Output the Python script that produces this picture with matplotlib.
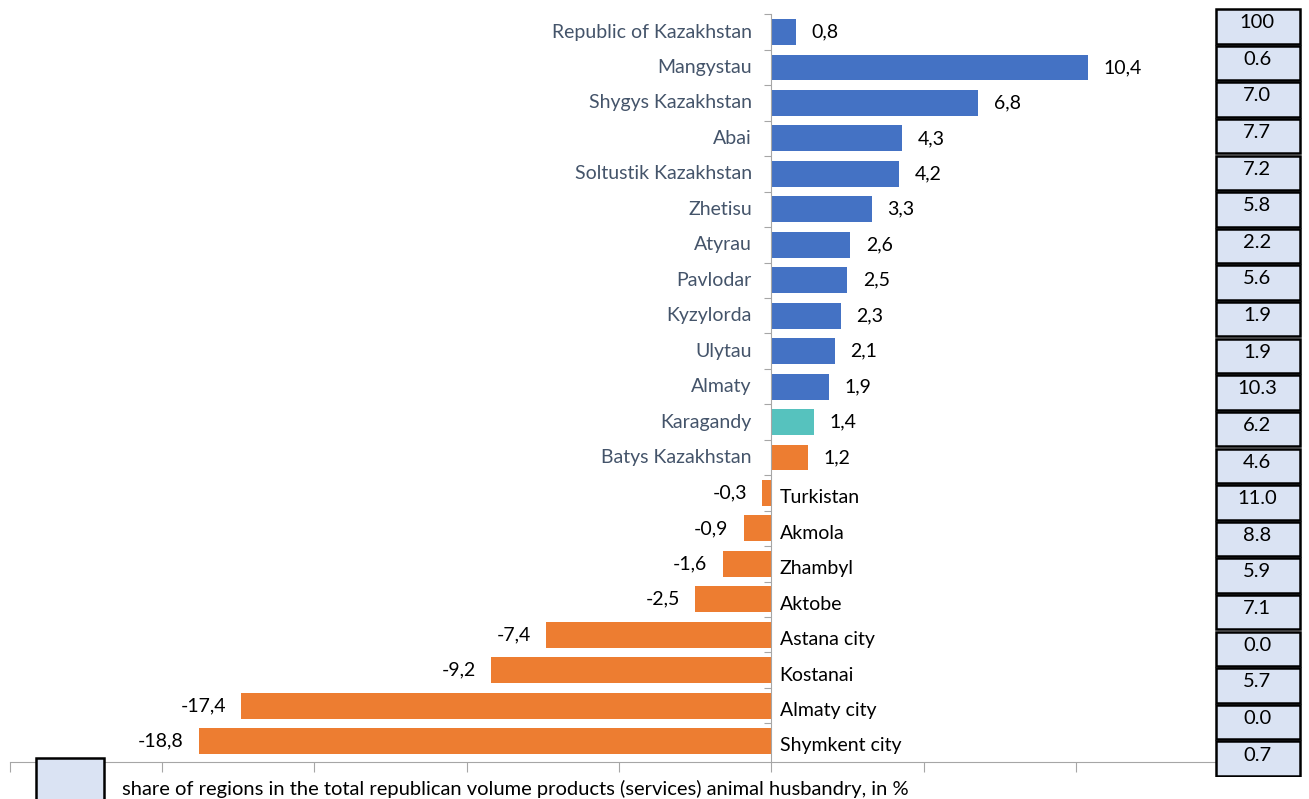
import matplotlib.pyplot as plt
from matplotlib.patches import Rectangle

plt.rcParams['font.family'] = ['Lato', 'DejaVu Sans']

# --- data ---
regions = ['Republic of Kazakhstan', 'Mangystau', 'Shygys Kazakhstan', 'Abai',
           'Soltustik Kazakhstan', 'Zhetisu', 'Atyrau', 'Pavlodar', 'Kyzylorda',
           'Ulytau', 'Almaty', 'Karagandy', 'Batys Kazakhstan', 'Turkistan',
           'Akmola', 'Zhambyl', 'Aktobe', 'Astana city', 'Kostanai',
           'Almaty city', 'Shymkent city']
growth = [0.8, 10.4, 6.8, 4.3, 4.2, 3.3, 2.6, 2.5, 2.3, 2.1, 1.9, 1.4, 1.2,
          -0.3, -0.9, -1.6, -2.5, -7.4, -9.2, -17.4, -18.8]
share = ['100', '0.6', '7.0', '7.7', '7.2', '5.8', '2.2', '5.6', '1.9', '1.9',
         '10.3', '6.2', '4.6', '11.0', '8.8', '5.9', '7.1', '0.0', '5.7',
         '0.0', '0.7']
legend_text = 'share of regions in the total republican volume products (services) animal husbandry, in %'

BLUE = '#4472C4'
TEAL = '#56C2BE'
ORANGE = '#ED7D31'
BOXFILL = '#DAE3F3'
FS = 14

W, H = 1309, 799
fig = plt.figure(figsize=(W / 100, H / 100), dpi=100)

def px_axes(x0, y0, x1, y1):
    return fig.add_axes([x0 / W, 1 - y1 / H, (x1 - x0) / W, (y1 - y0) / H])

ax = px_axes(10, 14, 1228, 762)

colors = []
for i, v in enumerate(growth):
    if i <= 10:
        colors.append(BLUE)
    elif i == 11:
        colors.append(TEAL)
    else:
        colors.append(ORANGE)

ypos = list(range(len(regions)))
ax.barh(ypos, growth, height=0.73, color=colors, zorder=2)
ax.set_xlim(-25, 15)
ax.set_ylim(len(regions) - 1 + 0.59, -0.51)

# value + category labels
for y, v, name in zip(ypos, growth, regions):
    s = f'{v:.1f}'.replace('.', ',')
    if v >= 0:
        ax.annotate(s, (v, y), xytext=(11, 0), textcoords='offset points',
                    ha='left', va='center', fontsize=FS, color='black')
        ax.annotate(name, (0, y), xytext=(-14, 0), textcoords='offset points',
                    ha='right', va='center', fontsize=FS, color='#44546A')
    else:
        ax.annotate(s, (v, y), xytext=(-11, 0), textcoords='offset points',
                    ha='right', va='center', fontsize=FS, color='black')
        ax.annotate(name, (0, y), xytext=(6, -3.5), textcoords='offset points',
                    ha='left', va='center', fontsize=FS, color='black')

# axes styling
for sp in ['top', 'right']:
    ax.spines[sp].set_visible(False)
ax.spines['left'].set_position(('data', 0))
ax.spines['left'].set_color('#A6A6A6')
ax.spines['bottom'].set_color('#A6A6A6')
ax.set_xticks(range(-25, 16, 5))
ax.set_xticklabels([])
ax.tick_params(axis='x', length=7, color='#A6A6A6', direction='out')
ax.set_yticks([y + 0.5 for y in ypos[:-1]] + [-0.5])
ax.set_yticklabels([])
ax.tick_params(axis='y', length=5, color='#A6A6A6', direction='out')

# share boxes on the right
bx = px_axes(1212, 8, 1302, 777)
bx.set_xlim(0, 1)
bx.set_ylim(len(share), 0)
bx.axis('off')
for i, s in enumerate(share):
    bx.add_patch(Rectangle((0.04, i + 0.03), 0.94, 0.94, facecolor=BOXFILL,
                           edgecolor='black', linewidth=1.8))
    bx.text(0.5, i + 0.4, s, ha='center', va='center', fontsize=14.5)

# legend
lx = px_axes(0, 750, W, H)
lx.set_xlim(0, W)
lx.set_ylim(H - 750, 0)
lx.axis('off')
lx.add_patch(Rectangle((36, 8), 68, 50, facecolor=BOXFILL, edgecolor='black',
                       linewidth=1.8, clip_on=True))
lx.text(122, 39, legend_text, ha='left', va='center', fontsize=14.5)

fig.savefig('out.png', dpi=100)
